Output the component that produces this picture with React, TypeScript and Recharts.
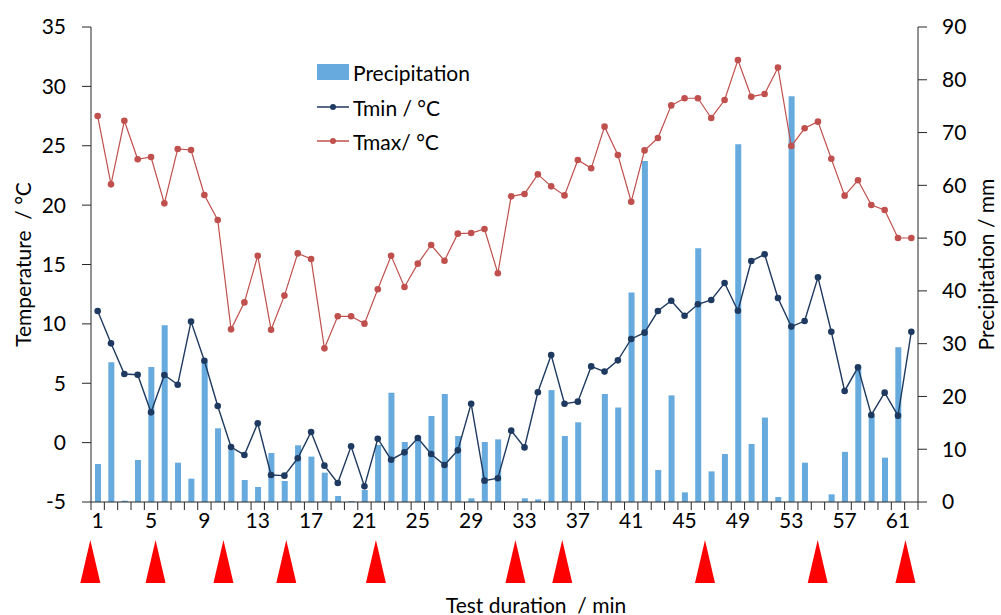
import React from 'react';
import { ComposedChart, Bar, Line, XAxis, YAxis, ReferenceDot, Label } from 'recharts';

const days = Array.from({ length: 62 }, (_, i) => String(i + 1));

const tmax = [
  27.5, 21.75, 27.1, 23.86, 24.05, 20.15, 24.73, 24.64, 20.85, 18.75,
  9.54, 11.81, 15.74, 9.51, 12.38, 15.94, 15.46, 7.94, 10.64, 10.64,
  10.02, 12.91, 15.74, 13.11, 15.07, 16.64, 15.32, 17.6, 17.65, 17.99,
  14.26, 20.74, 20.94, 22.59, 21.58, 20.82, 23.8, 23.1, 26.61, 24.22,
  20.29, 24.61, 25.65, 28.4, 29.0, 29.0, 27.34, 28.85, 32.22, 29.13,
  29.36, 31.58, 24.98, 26.47, 27.03, 23.91, 20.8, 22.09, 20.01, 19.59,
  17.23, 17.23,
];

const tmin = [
  11.08, 8.36, 5.78, 5.72, 2.55, 5.69, 4.88, 10.19, 6.9, 3.08,
  -0.37, -1.04, 1.63, -2.73, -2.78, -1.32, 0.9, -1.94, -3.4, -0.31,
  -3.68, 0.33, -1.44, -0.82, 0.39, -0.96, -1.88, -0.65, 3.28, -3.2,
  -3.0, 1.01, -0.4, 4.24, 7.38, 3.28, 3.45, 6.42, 5.98, 6.93,
  8.73, 9.26, 11.08, 11.95, 10.69, 11.65, 12.01, 13.44, 11.11, 15.29,
  15.86, 12.18, 9.77, 10.24, 13.92, 9.34, 4.35, 6.34, 2.33, 4.21,
  2.27, 9.34,
];

const precipitation = [
  7.2, 26.5, 0.25, 7.96, 25.6, 33.5, 7.45, 4.42, 26.5, 13.96,
  9.85, 4.17, 2.84, 9.28, 3.98, 10.74, 8.6, 5.56, 1.14, 0.19,
  2.27, 10.8, 20.7, 11.37, 12.5, 16.3, 20.46, 12.5, 0.7, 11.37,
  11.87, 0, 0.7, 0.5, 21.2, 12.5, 15.1, 0.2, 20.46, 17.9,
  39.7, 64.6, 6.06, 20.2, 1.83, 48.1, 5.8, 9.1, 67.8, 11.0,
  16.0, 0.95, 76.9, 7.45, 0, 1.45, 9.5, 25.3, 16.3, 8.4,
  29.3, 0,
];

// positions of the red markers along the test duration
const markers = [0.45, 5.34, 10.43, 15.14, 21.86, 32.32, 35.83, 46.53, 54.98, 61.56];

const tempTicks = [-5, 0, 5, 10, 15, 20, 25, 30, 35];
const precTicks = [0, 10, 20, 30, 40, 50, 60, 70, 80, 90];

const data = days.map((d, i) => ({
  day: d,
  pos: i + 1,
  tmin: tmin[i],
  tmax: tmax[i],
  precipitation: precipitation[i],
}));

const W = 1001;
const H = 615;
const LEFT = 91;
const RIGHT = 83;
const BAND = (W - LEFT - RIGHT) / days.length;
const FONT = 'Lato, "Noto Sans", sans-serif';
const AXIS = '#262626';
const TMIN = '#1F3A60';
const TMAX = '#C0504D';
const BAR = '#67AADD';

const DayTick = (props: any) => {
  const { x, y, payload, index } = props;
  const left = x - BAND / 2;
  return (
    <g>
      <line x1={left} y1={y} x2={left} y2={y + 8} stroke={AXIS} strokeWidth={1} />
      {index === days.length - 1 && (
        <line x1={x + BAND / 2} y1={y} x2={x + BAND / 2} y2={y + 8} stroke={AXIS} strokeWidth={1} />
      )}
      {index % 4 === 0 && (
        <text x={x} y={y + 17} textAnchor="middle" dominantBaseline="central" fontSize={21} fill="#000" fontFamily={FONT}>
          {payload.value}
        </text>
      )}
    </g>
  );
};

const Triangle = (props: any) => {
  const { cx, cy } = props;
  return <polygon points={`${cx},${cy} ${cx - 10},${cy + 43} ${cx + 10},${cy + 43}`} fill="#FF0000" />;
};

const LegendBox = () => (
  <svg width={200} height={110} style={{ position: 'absolute', left: 310, top: 55, fontFamily: FONT }}>
    <rect x={7} y={9} width={32} height={16} fill={BAR} />
    <text x={43} y={17} dominantBaseline="central" fontSize={21} fill="#000">Precipitation</text>
    <line x1={7} y1={52} x2={39} y2={52} stroke={TMIN} strokeWidth={1.5} />
    <circle cx={23} cy={52} r={3} fill={TMIN} />
    <text x={43} y={52} dominantBaseline="central" fontSize={21} fill="#000">Tmin / °C</text>
    <line x1={7} y1={86} x2={39} y2={86} stroke={TMAX} strokeWidth={1.5} />
    <circle cx={23} cy={86} r={3} fill={TMAX} />
    <text x={43} y={86} dominantBaseline="central" fontSize={21} fill="#000">Tmax/ °C</text>
  </svg>
);

const sideTitle = (text: string, cx: number) => (props: any) => {
  const { viewBox } = props;
  const cy = viewBox.y + viewBox.height / 2;
  return (
    <text
      x={cx}
      y={cy}
      transform={`rotate(-90 ${cx} ${cy})`}
      textAnchor="middle"
      dominantBaseline="central"
      fontSize={21}
      fill="#000"
      fontFamily={FONT}
      style={{ whiteSpace: 'pre' }}
    >
      {text}
    </text>
  );
};

const bottomTitle = () => (
  <text x={536} y={604} textAnchor="middle" dominantBaseline="central" fontSize={21} fill="#000" fontFamily={FONT} style={{ whiteSpace: 'pre' }}>
    Test duration  / min
  </text>
);

export default function App() {
  return (
    <div style={{ position: 'absolute', left: 0, top: 0, width: W, height: H, background: '#fff' }}>
      <ComposedChart
        width={W}
        height={H}
        data={data}
        margin={{ top: 27, right: 0, bottom: 83, left: 0 }}
        style={{ fontFamily: FONT }}
      >
        <XAxis
          dataKey="day"
          xAxisId="cat"
          interval={0}
          tickLine={false}
          tickSize={0}
          tickMargin={0}
          height={30}
          stroke={AXIS}
          tick={<DayTick />}
        >
          <Label content={bottomTitle} />
        </XAxis>
        <XAxis xAxisId="num" dataKey="pos" type="number" domain={[0.5, 62.5]} allowDataOverflow hide />
        <YAxis
          yAxisId="left"
          domain={[-5, 35]}
          ticks={tempTicks}
          width={LEFT}
          tickSize={9}
          tickMargin={16}
          stroke={AXIS}
          tick={{ fill: '#000', fontSize: 21 }}
          interval={0}
        >
          <Label content={sideTitle('Temperature  / °C', 22)} />
        </YAxis>
        <YAxis
          yAxisId="right"
          orientation="right"
          domain={[0, 90]}
          ticks={precTicks}
          width={RIGHT}
          tickSize={9}
          tickMargin={15}
          stroke={AXIS}
          tick={{ fill: '#000', fontSize: 21 }}
          interval={0}
        >
          <Label content={sideTitle('Precipitation / mm', 985)} />
        </YAxis>
        <Bar
          dataKey="precipitation"
          xAxisId="cat"
          yAxisId="right"
          barSize={6}
          fill={BAR}
          isAnimationActive={false}
        />
        <Line
          dataKey="tmin"
          xAxisId="cat"
          yAxisId="left"
          stroke={TMIN}
          strokeWidth={1.4}
          dot={{ r: 3.3, fill: TMIN, stroke: TMIN, strokeWidth: 0 }}
          activeDot={false}
          isAnimationActive={false}
        />
        <Line
          dataKey="tmax"
          xAxisId="cat"
          yAxisId="left"
          stroke={TMAX}
          strokeWidth={1.2}
          dot={{ r: 3.3, fill: TMAX, stroke: TMAX, strokeWidth: 0 }}
          activeDot={false}
          isAnimationActive={false}
        />
        {markers.map((m, i) => (
          <ReferenceDot
            key={i}
            xAxisId="num"
            yAxisId="left"
            x={m}
            y={-8.2}
            ifOverflow="visible"
            shape={<Triangle />}
          />
        ))}
      </ComposedChart>
      <LegendBox />
    </div>
  );
}
